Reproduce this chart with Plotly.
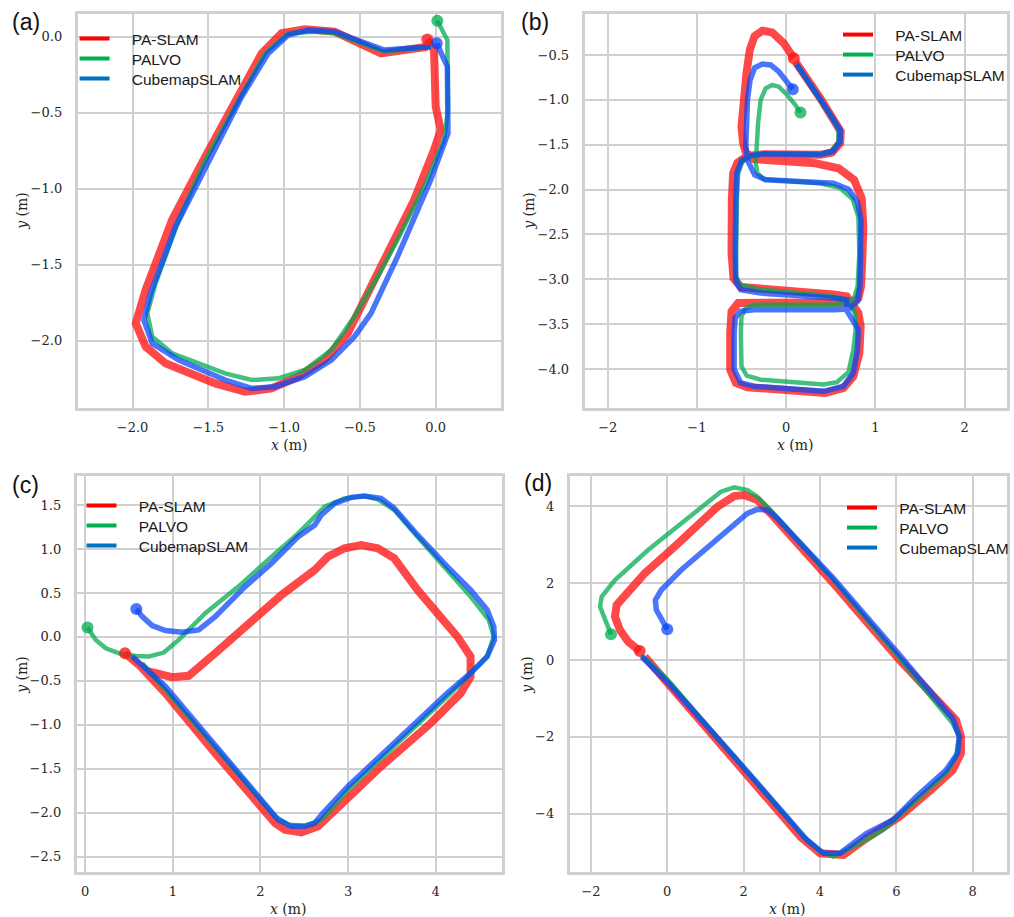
import plotly.graph_objects as go

# ---------------- data (metres) ----------------
# (a)
a_pa_x = [-0.055, -0.011, 0.0, 0.033, -0.011, -0.142, -0.361, -0.47, -0.58, -0.733, -0.908, -1.083, -1.258, -1.455, -1.783, -1.914, -1.979, -1.914, -1.739, -1.52, -1.345, -1.148, -1.017, -0.864, -0.667, -0.361, -0.055]
a_pa_y = [-0.018, -0.088, -0.46, -0.614, -0.746, -1.075, -1.513, -1.732, -1.952, -2.127, -2.237, -2.314, -2.336, -2.281, -2.149, -2.039, -1.886, -1.667, -1.206, -0.789, -0.461, -0.11, 0.022, 0.048, 0.033, -0.11, -0.066]
a_pv_x = [0.011, 0.077, 0.081, 0.055, -0.055, -0.252, -0.383, -0.536, -0.689, -0.864, -1.039, -1.214, -1.389, -1.739, -1.87, -1.903, -1.848, -1.695, -1.52, -1.301, -1.126, -0.973, -0.798, -0.667, -0.339, -0.033]
a_pv_y = [0.105, -0.022, -0.482, -0.68, -0.943, -1.338, -1.579, -1.842, -2.061, -2.193, -2.248, -2.259, -2.215, -2.083, -1.974, -1.82, -1.623, -1.206, -0.811, -0.417, -0.11, 0.022, 0.033, 0.022, -0.099, -0.066]
a_cm_x = [0.007, 0.077, 0.081, -0.033, -0.252, -0.427, -0.536, -0.689, -0.864, -1.061, -1.214, -1.389, -1.695, -1.87, -1.925, -1.881, -1.717, -1.476, -1.28, -1.105, -0.973, -0.842, -0.667, -0.339, -0.033]
a_cm_y = [-0.044, -0.197, -0.636, -0.943, -1.447, -1.82, -1.974, -2.127, -2.237, -2.303, -2.314, -2.259, -2.127, -2.018, -1.864, -1.689, -1.25, -0.768, -0.395, -0.11, 0.011, 0.044, 0.033, -0.088, -0.066]

# (b)
b_pa_x = [0.085, -0.026, -0.156, -0.267, -0.353, -0.408, -0.445, -0.479, -0.501, -0.482, -0.453, -0.36, 0.327, 0.586, 0.761, 0.846, 0.865, 0.853, 0.839, 0.809, 0.716, 0.531, -0.36, -0.538, -0.612, -0.627, -0.627, -0.564, -0.434, 0.16, 0.438, 0.642, 0.753, 0.82, 0.835, 0.809, 0.753, 0.679, 0.531, -0.286, -0.508, -0.59, -0.612, -0.609, -0.594, -0.545, -0.434, -0.249, 0.382, 0.512, 0.605, 0.612, 0.549, 0.382, 0.104]
b_pa_y = [-0.537, -0.37, -0.248, -0.229, -0.288, -0.444, -0.704, -1.001, -1.298, -1.483, -1.587, -1.661, -1.706, -1.762, -1.891, -2.096, -2.411, -2.782, -3.079, -3.209, -3.264, -3.257, -3.246, -3.264, -3.357, -3.598, -4.006, -4.155, -4.203, -4.237, -4.266, -4.211, -4.081, -3.821, -3.524, -3.376, -3.301, -3.19, -3.168, -3.116, -3.086, -2.986, -2.708, -2.114, -1.817, -1.699, -1.624, -1.606, -1.613, -1.587, -1.483, -1.353, -1.242, -0.982, -0.574]
b_pv_x = [0.16, 0.104, 0.011, -0.082, -0.156, -0.23, -0.286, -0.315, -0.33, -0.341, -0.323, -0.249, 0.382, 0.605, 0.746, 0.809, 0.82, 0.801, 0.761, 0.679, 0.531, -0.36, -0.453, -0.501, -0.508, -0.501, -0.442, -0.286, 0.419, 0.568, 0.698, 0.753, 0.783, 0.772, 0.698, 0.531, -0.323, -0.516, -0.564, -0.564, -0.553, -0.538, -0.49, -0.39, -0.249, 0.382, 0.512, 0.586, 0.586, 0.531, 0.382, 0.122]
b_pv_y = [-1.142, -1.057, -0.945, -0.853, -0.834, -0.871, -1.001, -1.261, -1.52, -1.706, -1.817, -1.884, -1.929, -1.984, -2.107, -2.3, -2.708, -3.079, -3.209, -3.272, -3.283, -3.283, -3.32, -3.413, -3.598, -3.969, -4.073, -4.118, -4.173, -4.147, -4.036, -3.784, -3.524, -3.376, -3.246, -3.19, -3.108, -3.06, -2.968, -2.708, -2.114, -1.817, -1.687, -1.617, -1.595, -1.602, -1.565, -1.465, -1.335, -1.231, -1.001, -0.611]
b_cm_x = [0.074, 0.011, -0.082, -0.174, -0.267, -0.353, -0.404, -0.434, -0.453, -0.453, -0.427, -0.353, -0.23, 0.531, 0.698, 0.798, 0.839, 0.839, 0.827, 0.801, 0.698, 0.531, -0.36, -0.516, -0.571, -0.583, -0.583, -0.508, -0.36, 0.419, 0.642, 0.753, 0.798, 0.809, 0.679, 0.679, 0.531, -0.286, -0.508, -0.564, -0.571, -0.564, -0.553, -0.501, -0.397, -0.249, 0.382, 0.523, 0.605, 0.605, 0.542, 0.382, 0.115]
b_cm_y = [-0.882, -0.797, -0.686, -0.611, -0.6, -0.641, -0.778, -1.001, -1.298, -1.52, -1.687, -1.836, -1.891, -1.929, -1.995, -2.133, -2.337, -2.708, -3.079, -3.246, -3.331, -3.339, -3.339, -3.357, -3.431, -3.598, -4.006, -4.155, -4.192, -4.248, -4.192, -4.044, -3.784, -3.561, -3.346, -3.227, -3.209, -3.153, -3.116, -3.023, -2.708, -2.114, -1.817, -1.676, -1.621, -1.602, -1.609, -1.576, -1.465, -1.335, -1.231, -0.994, -0.6]

# (c)
c_pa_x = [0.454, 0.689, 0.991, 1.181, 1.483, 1.9, 2.24, 2.619, 2.77, 2.959, 3.149, 3.338, 3.527, 3.792, 4.057, 4.246, 4.397, 4.397, 4.284, 3.943, 3.376, 2.959, 2.657, 2.467, 2.278, 2.165, 1.9, 1.483, 0.916, 0.613]
c_pa_y = [-0.186, -0.383, -0.458, -0.443, -0.186, 0.193, 0.477, 0.761, 0.913, 1.008, 1.045, 1.008, 0.894, 0.534, 0.231, 0.004, -0.223, -0.451, -0.64, -0.981, -1.473, -1.852, -2.155, -2.223, -2.193, -2.117, -1.814, -1.322, -0.64, -0.318]
c_pv_x = [0.026, 0.121, 0.235, 0.386, 0.575, 0.727, 0.897, 1.067, 1.37, 1.748, 2.127, 2.43, 2.581, 2.732, 2.959, 3.186, 3.338, 3.527, 3.792, 4.132, 4.397, 4.605, 4.662, 4.587, 4.397, 4.132, 3.565, 2.997, 2.694, 2.505, 2.316, 2.165, 1.673, 1.105, 0.651]
c_pv_y = [0.106, -0.034, -0.129, -0.186, -0.216, -0.223, -0.178, -0.034, 0.269, 0.572, 0.913, 1.178, 1.33, 1.481, 1.576, 1.602, 1.564, 1.443, 1.14, 0.761, 0.458, 0.193, 0.004, -0.223, -0.413, -0.678, -1.208, -1.739, -2.08, -2.148, -2.136, -2.042, -1.473, -0.83, -0.299]
c_cm_x = [0.583, 0.651, 0.764, 0.916, 1.105, 1.294, 1.483, 1.824, 2.127, 2.43, 2.619, 2.694, 2.846, 3.035, 3.186, 3.376, 3.527, 3.792, 4.132, 4.397, 4.587, 4.662, 4.67, 4.587, 4.397, 4.132, 3.565, 2.997, 2.713, 2.619, 2.505, 2.354, 2.202, 1.975, 1.483, 0.916, 0.537]
c_cm_y = [0.318, 0.231, 0.129, 0.072, 0.053, 0.08, 0.231, 0.572, 0.837, 1.14, 1.273, 1.386, 1.519, 1.587, 1.602, 1.576, 1.462, 1.159, 0.799, 0.534, 0.307, 0.117, -0.034, -0.223, -0.413, -0.64, -1.17, -1.701, -2.004, -2.117, -2.155, -2.155, -2.08, -1.814, -1.246, -0.564, -0.223]

# (d)
d_pa_x = [-0.72, -1.023, -1.24, -1.37, -1.327, -1.067, -0.59, 0.191, 0.885, 1.318, 1.752, 2.012, 2.359, 2.706, 4.354, 6.088, 7.563, 7.693, 7.693, 7.476, 6.956, 6.088, 5.221, 4.614, 4.007, 3.487, 1.752, 0.017, -0.59]
d_pa_y = [0.234, 0.477, 0.781, 1.127, 1.431, 1.735, 2.255, 2.949, 3.556, 3.99, 4.267, 4.293, 4.163, 3.816, 1.995, 0.0, -1.561, -1.995, -2.428, -2.862, -3.339, -4.076, -4.64, -5.074, -5.03, -4.597, -2.602, -0.607, 0.087]
d_pv_x = [-1.474, -1.631, -1.761, -1.717, -1.37, -0.503, 0.364, 0.885, 1.405, 1.752, 2.099, 2.359, 2.706, 4.354, 6.088, 7.476, 7.65, 7.563, 7.303, 6.522, 5.655, 5.048, 4.354, 4.007, 3.573, 1.752, 0.017, -0.677]
d_pv_y = [0.668, 1.041, 1.388, 1.648, 2.082, 2.862, 3.556, 3.99, 4.38, 4.493, 4.423, 4.25, 3.903, 2.082, 0.043, -1.648, -1.995, -2.515, -2.949, -3.643, -4.423, -4.77, -5.117, -4.987, -4.597, -2.515, -0.52, 0.13]
d_cm_x = [0.0, -0.156, -0.286, -0.312, -0.156, 0.364, 1.058, 1.752, 2.099, 2.359, 2.619, 2.879, 4.354, 6.088, 7.476, 7.65, 7.606, 7.303, 6.522, 5.915, 5.221, 4.874, 4.527, 4.094, 3.66, 1.752, 0.017, -0.677]
d_cm_y = [0.798, 1.041, 1.301, 1.561, 1.821, 2.342, 2.949, 3.556, 3.816, 3.92, 3.903, 3.686, 2.125, 0.13, -1.518, -1.995, -2.428, -2.862, -3.556, -4.163, -4.51, -4.77, -5.03, -5.03, -4.683, -2.515, -0.59, 0.087]

series_names = ["PA-SLAM", "PALVO", "CubemapSLAM"]
panel_labels = ["(a)", "(b)", "(c)", "(d)"]
a_xticks = [-2.0, -1.5, -1.0, -0.5, 0.0]
a_yticks = [0.0, -0.5, -1.0, -1.5, -2.0]
b_xticks = [-2, -1, 0, 1, 2]
b_yticks = [-0.5, -1.0, -1.5, -2.0, -2.5, -3.0, -3.5, -4.0]
c_xticks = [0, 1, 2, 3, 4]
c_yticks = [1.5, 1.0, 0.5, 0.0, -0.5, -1.0, -1.5, -2.0, -2.5]
d_xticks = [-2, 0, 2, 4, 6, 8]
d_yticks = [4, 2, 0, -2, -4]

# ---------------- style ----------------
W, H = 1014, 917
traj_colors = ["rgba(255,20,20,0.78)", "rgba(0,170,80,0.74)", "rgba(10,70,250,0.74)"]
legend_colors = ["#ff0000", "#00b050", "#0070c0"]
widths = [8, 4.5, 5.5]
GRID = "#d0d0d0"
TXT = "#262626"
SERIF = "DejaVu Serif"
SANS = "Liberation Sans"
ROW_GAP = 20

panels = [
    dict(series=[(a_pa_x, a_pa_y), (a_pv_x, a_pv_y), (a_cm_x, a_cm_y)],
         px=(78, 504), py=(14, 408), xr=[-2.363, 0.431], yr=[-2.443, 0.149],
         xt=a_xticks, yt=a_yticks, xf=".1f", yf=".1f",
         leg=(75, 39), lab=(10, 22), ylab=(22, 211), xlab=(291, 445)),
    dict(series=[(b_pa_x, b_pa_y), (b_pv_x, b_pv_y), (b_cm_x, b_cm_y)],
         px=(588, 1013), py=(14, 408), xr=[-2.26, 2.475], yr=[-4.434, -0.043],
         xt=b_xticks, yt=b_yticks, xf="d", yf=".1f",
         leg=(843, 35), lab=(522, 22), ylab=(532, 211), xlab=(800, 445)),
    dict(series=[(c_pa_x, c_pa_y), (c_pv_x, c_pv_y), (c_cm_x, c_cm_y)],
         px=(77, 505), py=(476, 872), xr=[-0.099, 4.756], yr=[-2.674, 1.83],
         xt=c_xticks, yt=c_yticks, xf="d", yf=".1f",
         leg=(82, 506), lab=(10, 485), ylab=(22, 675), xlab=(290, 909)),
    dict(series=[(d_pa_x, d_pa_y), (d_pv_x, d_pv_y), (d_cm_x, d_cm_y)],
         px=(573, 1013), py=(476, 872), xr=[-2.558, 8.9], yr=[-5.517, 4.788],
         xt=d_xticks, yt=d_yticks, xf="d", yf="d",
         leg=(847, 508), lab=(525, 483), ylab=(530, 675), xlab=(792, 909)),
]

fig = go.Figure()
layout = dict(width=W, height=H, margin=dict(l=0, r=0, t=0, b=0),
              paper_bgcolor="white", plot_bgcolor="white", annotations=[])

leg_count = 0
for i, p in enumerate(panels):
    k = "" if i == 0 else str(i + 1)
    xa, ya = "x" + k, "y" + k
    for j, (xs, ys) in enumerate(p["series"]):
        fig.add_trace(go.Scatter(x=xs, y=ys, mode="lines", xaxis=xa, yaxis=ya,
                                 line=dict(color=traj_colors[j], width=widths[j]),
                                 showlegend=False, hoverinfo="skip"))
    for j, (xs, ys) in enumerate(p["series"]):
        fig.add_trace(go.Scatter(x=[xs[0]], y=[ys[0]], mode="markers", xaxis=xa, yaxis=ya,
                                 marker=dict(color=traj_colors[j], size=12, line=dict(width=0)),
                                 showlegend=False, hoverinfo="skip"))
    # one legend box per entry so that the row spacing matches
    for j in range(3):
        leg_count += 1
        leg = "legend" if leg_count == 1 else "legend" + str(leg_count)
        fig.add_trace(go.Scatter(x=[None], y=[None], mode="lines", xaxis=xa, yaxis=ya,
                                 line=dict(color=legend_colors[j], width=4),
                                 name="\u00a0\u00a0\u00a0\u00a0" + series_names[j],
                                 legend=leg, showlegend=True))
        row_center = p["leg"][1] + j * ROW_GAP
        layout[leg] = dict(x=p["leg"][0] / W, y=1 - (row_center - 17) / H,
                           xanchor="left", yanchor="top",
                           bgcolor="rgba(0,0,0,0)", borderwidth=0,
                           font=dict(family=SANS, size=15.5, color="#1a1a1a"))
    ax_common = dict(showgrid=True, gridcolor=GRID, gridwidth=1.6, zeroline=False,
                     showline=True, linecolor=GRID, linewidth=2.5, mirror=True,
                     ticks="outside", tickcolor="rgba(0,0,0,0)",
                     tickfont=dict(family=SERIF, size=13, color=TXT))
    layout["xaxis" + k] = dict(ax_common, domain=[p["px"][0] / W, p["px"][1] / W],
                               range=p["xr"], tickvals=p["xt"], tickformat=p["xf"],
                               ticklen=6, anchor=ya)
    layout["yaxis" + k] = dict(ax_common, domain=[1 - p["py"][1] / H, 1 - p["py"][0] / H],
                               range=p["yr"], tickvals=p["yt"], tickformat=p["yf"],
                               ticklen=10, anchor=xa)
    layout["annotations"] += [
        dict(text=panel_labels[i], x=p["lab"][0] / W, y=1 - p["lab"][1] / H, xref="paper", yref="paper",
             xanchor="left", yanchor="middle", showarrow=False,
             font=dict(family=SANS, size=23, color="#111111")),
        dict(text="<i>y</i> (m)", x=p["ylab"][0] / W, y=1 - p["ylab"][1] / H, xref="paper", yref="paper",
             xanchor="center", yanchor="middle", showarrow=False, textangle=-90,
             font=dict(family=SERIF, size=14, color=TXT)),
        dict(text="<i>x</i> (m)", x=p["xlab"][0] / W, y=1 - p["xlab"][1] / H, xref="paper", yref="paper",
             xanchor="center", yanchor="middle", showarrow=False,
             font=dict(family=SERIF, size=14, color=TXT)),
    ]

fig.update_layout(**layout)
fig.write_html("out.html")
